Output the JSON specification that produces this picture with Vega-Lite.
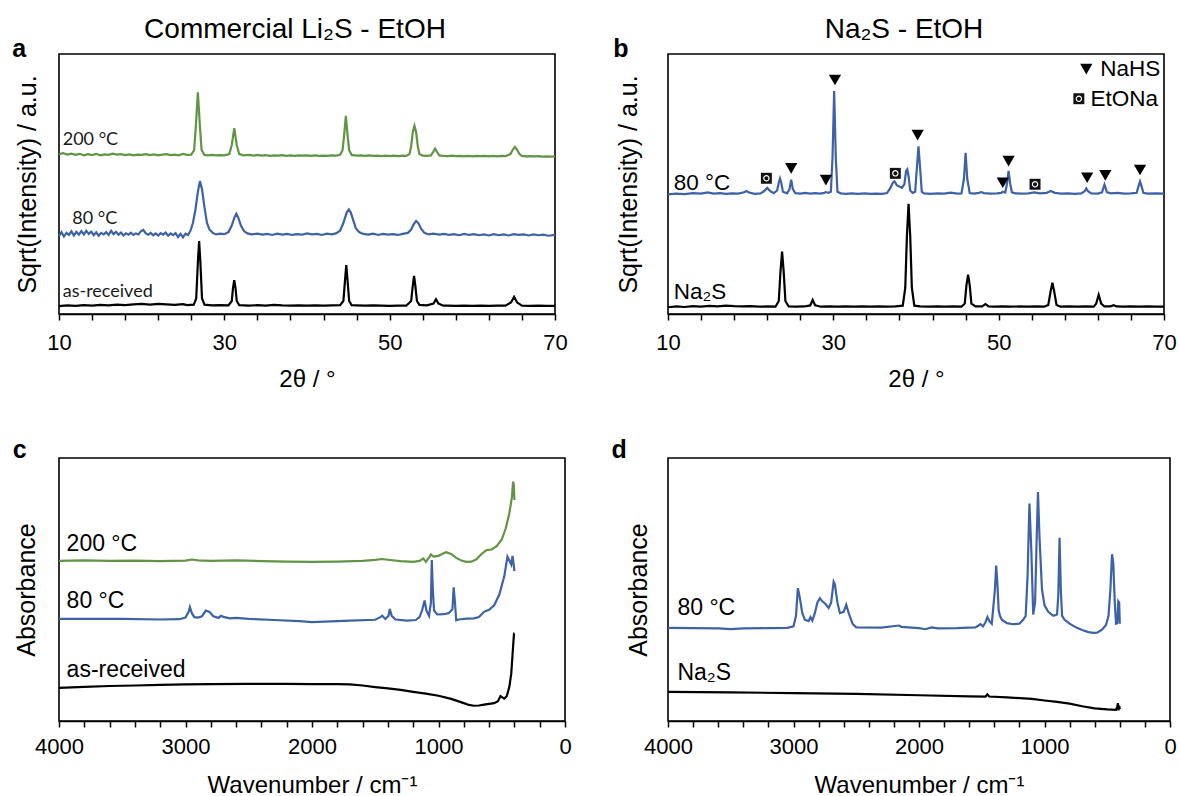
{
"$schema": "https://vega.github.io/schema/vega-lite/v6.json",
"background": "white",
"padding": {"left": 11, "top": 14, "right": 0, "bottom": 0},
"config": {
  "view": {"stroke": "black", "strokeWidth": 1.6},
  "font": "Liberation Sans",
  "axis": {"grid": false, "domainColor": "black", "domainWidth": 1.6, "tickColor": "black", "tickWidth": 1.5, "tickSize": 6, "labelColor": "black", "labelFont": "Liberation Sans", "labelFontSize": 22, "titleColor": "black", "titleFont": "Liberation Sans", "titleFontWeight": "normal", "titleFontSize": 24, "labelOverlap": false, "labelFlush": false},
  "title": {"font": "Liberation Sans", "fontSize": 28, "fontWeight": "normal", "color": "black"}
},
"datasets": {
"letters": [
{"p":"a","x":5.2,"y":99,"t":"a"},
{"p":"b","x":4.3,"y":99,"t":"b"},
{"p":"c","x":4310,"y":100,"t":"c"},
{"p":"d","x":4390,"y":100,"t":"d"}
],
"a_labels": [
{"x":10.45,"y":67.0,"t":"200 °C"},
{"x":11.6,"y":36.4,"t":"80 °C"},
{"x":10.45,"y":8.6,"t":"as-received"}
],
"b_labels": [
{"x":10.7,"y":50.4,"t":"80 °C"},
{"x":10.7,"y":8.6,"t":"Na₂S"},
{"x":62.3,"y":94.2,"t":"NaHS"},
{"x":61.1,"y":82.8,"t":"EtONa"}
],
"c_labels": [
{"x":3940,"y":67.2,"t":"200 °C"},
{"x":3940,"y":45.5,"t":"80 °C"},
{"x":3940,"y":19.3,"t":"as-received"}
],
"d_labels": [
{"x":3925,"y":42.9,"t":"80 °C"},
{"x":3925,"y":18.3,"t":"Na₂S"}
],
"b_marks": [
{"m":"e","x":21.9,"y":52.2},{"m":"n","x":24.9,"y":56.0},{"m":"n","x":29.1,"y":51.5},{"m":"n","x":30.2,"y":90},{"m":"e","x":37.5,"y":54.1},{"m":"n","x":40.2,"y":68.8},{"m":"n","x":50.5,"y":50.5},{"m":"n","x":51.2,"y":58.8},{"m":"e","x":54.4,"y":49.9},{"m":"n","x":60.7,"y":52.4},{"m":"n","x":62.9,"y":53.3},{"m":"n","x":67.1,"y":55.4},{"m":"n","x":60.6,"y":94.2},{"m":"e","x":59.7,"y":82.8}
],
"a_lines": [
{"s":"k","x":10,"y":3.0},{"s":"k","x":11,"y":3.3},{"s":"k","x":12,"y":3.1},{"s":"k","x":13,"y":3.4},{"s":"k","x":14,"y":3.2},{"s":"k","x":15,"y":3.5},{"s":"k","x":16,"y":3.3},{"s":"k","x":17,"y":3.6},{"s":"k","x":18,"y":3.4},{"s":"k","x":19,"y":3.7},{"s":"k","x":20,"y":3.9},{"s":"k","x":21,"y":3.6},{"s":"k","x":22,"y":3.9},{"s":"k","x":23,"y":3.7},{"s":"k","x":24,"y":3.5},{"s":"k","x":25,"y":3.8},{"s":"k","x":25.5,"y":3.4},{"s":"k","x":26.3,"y":3.6},{"s":"k","x":26.6,"y":6},{"s":"k","x":26.8,"y":20},{"s":"k","x":26.95,"y":28.1},{"s":"k","x":27.1,"y":20},{"s":"k","x":27.3,"y":6},{"s":"k","x":27.6,"y":3.6},{"s":"k","x":28.5,"y":3.3},{"s":"k","x":29.5,"y":3.4},{"s":"k","x":30.5,"y":3.3},{"s":"k","x":30.9,"y":5},{"s":"k","x":31.05,"y":10},{"s":"k","x":31.2,"y":13},{"s":"k","x":31.35,"y":10},{"s":"k","x":31.5,"y":5},{"s":"k","x":31.8,"y":3.4},{"s":"k","x":33,"y":3.2},{"s":"k","x":34,"y":3.4},{"s":"k","x":35,"y":3.2},{"s":"k","x":36,"y":3.5},{"s":"k","x":37,"y":3.3},{"s":"k","x":38,"y":3.2},{"s":"k","x":39,"y":3.3},{"s":"k","x":40,"y":3.2},{"s":"k","x":41,"y":3.3},{"s":"k","x":42,"y":3.2},{"s":"k","x":43,"y":3.3},{"s":"k","x":44,"y":3.4},{"s":"k","x":44.4,"y":5},{"s":"k","x":44.6,"y":13},{"s":"k","x":44.75,"y":18.8},{"s":"k","x":44.9,"y":13},{"s":"k","x":45.1,"y":5},{"s":"k","x":45.4,"y":3.4},{"s":"k","x":46,"y":3.3},{"s":"k","x":47,"y":3.2},{"s":"k","x":48,"y":3.3},{"s":"k","x":49,"y":3.2},{"s":"k","x":50,"y":3.1},{"s":"k","x":51,"y":3.2},{"s":"k","x":52,"y":3.2},{"s":"k","x":52.6,"y":5},{"s":"k","x":52.8,"y":11},{"s":"k","x":52.95,"y":14.7},{"s":"k","x":53.1,"y":11},{"s":"k","x":53.3,"y":5},{"s":"k","x":53.6,"y":3.5},{"s":"k","x":54.5,"y":3.3},{"s":"k","x":55.3,"y":4},{"s":"k","x":55.6,"y":5.7},{"s":"k","x":55.9,"y":4},{"s":"k","x":56.5,"y":3.2},{"s":"k","x":57,"y":3.2},{"s":"k","x":58,"y":3.1},{"s":"k","x":59,"y":3.2},{"s":"k","x":60,"y":3.1},{"s":"k","x":61,"y":3.2},{"s":"k","x":62,"y":3.1},{"s":"k","x":63,"y":3.2},{"s":"k","x":64,"y":3.2},{"s":"k","x":64.7,"y":4.5},{"s":"k","x":65.05,"y":6.6},{"s":"k","x":65.4,"y":4.5},{"s":"k","x":66,"y":3.2},{"s":"k","x":67,"y":3.1},{"s":"k","x":68,"y":3.2},{"s":"k","x":69,"y":3.1},{"s":"k","x":70,"y":3.1},
{"s":"b","x":10,"y":30.0},{"s":"b","x":10.3,"y":31.5},{"s":"b","x":10.6,"y":29.8},{"s":"b","x":10.9,"y":31.2},{"s":"b","x":11.2,"y":30.4},{"s":"b","x":11.5,"y":31.8},{"s":"b","x":11.8,"y":30.2},{"s":"b","x":12.1,"y":31.6},{"s":"b","x":12.4,"y":30.5},{"s":"b","x":12.7,"y":31.9},{"s":"b","x":13,"y":30.6},{"s":"b","x":13.3,"y":32.0},{"s":"b","x":13.6,"y":30.8},{"s":"b","x":13.9,"y":31.7},{"s":"b","x":14.2,"y":30.3},{"s":"b","x":14.5,"y":31.4},{"s":"b","x":14.8,"y":30.1},{"s":"b","x":15.1,"y":31.2},{"s":"b","x":15.4,"y":30.6},{"s":"b","x":15.7,"y":31.5},{"s":"b","x":16,"y":30.4},{"s":"b","x":16.3,"y":32.0},{"s":"b","x":16.6,"y":30.7},{"s":"b","x":16.9,"y":31.6},{"s":"b","x":17.2,"y":30.5},{"s":"b","x":17.5,"y":31.3},{"s":"b","x":17.8,"y":30.2},{"s":"b","x":18.1,"y":31.0},{"s":"b","x":18.4,"y":30.5},{"s":"b","x":18.7,"y":31.3},{"s":"b","x":19,"y":30.4},{"s":"b","x":19.3,"y":31.0},{"s":"b","x":19.6,"y":30.6},{"s":"b","x":19.9,"y":31.8},{"s":"b","x":20.2,"y":32.3},{"s":"b","x":20.5,"y":31.0},{"s":"b","x":20.8,"y":30.5},{"s":"b","x":21.1,"y":31.2},{"s":"b","x":21.4,"y":30.3},{"s":"b","x":21.7,"y":31.0},{"s":"b","x":22,"y":30.2},{"s":"b","x":22.3,"y":31.1},{"s":"b","x":22.6,"y":30.5},{"s":"b","x":22.9,"y":31.3},{"s":"b","x":23.2,"y":30.1},{"s":"b","x":23.5,"y":31.0},{"s":"b","x":23.8,"y":30.3},{"s":"b","x":24.1,"y":31.1},{"s":"b","x":24.4,"y":29.6},{"s":"b","x":24.7,"y":30.8},{"s":"b","x":25,"y":29.5},{"s":"b","x":25.3,"y":30.9},{"s":"b","x":25.6,"y":30.4},{"s":"b","x":25.9,"y":32},{"s":"b","x":26.2,"y":35},{"s":"b","x":26.5,"y":40},{"s":"b","x":26.8,"y":47},{"s":"b","x":27.05,"y":51.1},{"s":"b","x":27.3,"y":48},{"s":"b","x":27.6,"y":41},{"s":"b","x":27.9,"y":35},{"s":"b","x":28.2,"y":32.5},{"s":"b","x":28.6,"y":31.2},{"s":"b","x":29,"y":30.6},{"s":"b","x":29.5,"y":30.9},{"s":"b","x":30,"y":30.7},{"s":"b","x":30.5,"y":31.5},{"s":"b","x":30.9,"y":34},{"s":"b","x":31.2,"y":37},{"s":"b","x":31.45,"y":38.6},{"s":"b","x":31.7,"y":37},{"s":"b","x":32.0,"y":34},{"s":"b","x":32.4,"y":31.8},{"s":"b","x":32.8,"y":31.0},{"s":"b","x":33.3,"y":30.6},{"s":"b","x":34,"y":30.9},{"s":"b","x":34.6,"y":30.5},{"s":"b","x":35.2,"y":30.8},{"s":"b","x":35.8,"y":30.4},{"s":"b","x":36.4,"y":30.9},{"s":"b","x":37,"y":30.5},{"s":"b","x":37.6,"y":30.8},{"s":"b","x":38.2,"y":30.4},{"s":"b","x":38.8,"y":30.7},{"s":"b","x":39.4,"y":30.5},{"s":"b","x":40,"y":31.0},{"s":"b","x":40.6,"y":30.6},{"s":"b","x":41.2,"y":30.8},{"s":"b","x":41.8,"y":30.4},{"s":"b","x":42.4,"y":30.9},{"s":"b","x":43,"y":30.6},{"s":"b","x":43.5,"y":31.0},{"s":"b","x":44,"y":32},{"s":"b","x":44.4,"y":35},{"s":"b","x":44.8,"y":39},{"s":"b","x":45.05,"y":40.2},{"s":"b","x":45.3,"y":39},{"s":"b","x":45.6,"y":36},{"s":"b","x":45.9,"y":33},{"s":"b","x":46.3,"y":31.5},{"s":"b","x":46.8,"y":30.8},{"s":"b","x":47.4,"y":30.5},{"s":"b","x":48,"y":30.9},{"s":"b","x":48.6,"y":30.4},{"s":"b","x":49.2,"y":30.8},{"s":"b","x":49.8,"y":30.5},{"s":"b","x":50.4,"y":30.7},{"s":"b","x":51,"y":30.4},{"s":"b","x":51.6,"y":30.8},{"s":"b","x":52.2,"y":31.2},{"s":"b","x":52.6,"y":32.5},{"s":"b","x":52.9,"y":34.5},{"s":"b","x":53.2,"y":35.8},{"s":"b","x":53.5,"y":34.8},{"s":"b","x":53.8,"y":32.8},{"s":"b","x":54.2,"y":31.2},{"s":"b","x":54.7,"y":30.6},{"s":"b","x":55.3,"y":30.9},{"s":"b","x":56,"y":30.5},{"s":"b","x":56.6,"y":30.8},{"s":"b","x":57.2,"y":30.4},{"s":"b","x":57.8,"y":30.7},{"s":"b","x":58.4,"y":30.3},{"s":"b","x":59,"y":30.8},{"s":"b","x":59.6,"y":30.4},{"s":"b","x":60.2,"y":30.7},{"s":"b","x":60.8,"y":30.3},{"s":"b","x":61.4,"y":30.6},{"s":"b","x":62,"y":30.2},{"s":"b","x":62.6,"y":30.7},{"s":"b","x":63.2,"y":30.3},{"s":"b","x":63.8,"y":30.6},{"s":"b","x":64.4,"y":30.2},{"s":"b","x":65,"y":30.7},{"s":"b","x":65.6,"y":30.4},{"s":"b","x":66.2,"y":30.6},{"s":"b","x":66.8,"y":30.2},{"s":"b","x":67.4,"y":30.6},{"s":"b","x":68,"y":30.3},{"s":"b","x":68.6,"y":30.5},{"s":"b","x":69.2,"y":30.1},{"s":"b","x":70,"y":30.4},
{"s":"g","x":10,"y":61.5},{"s":"g","x":10.5,"y":61.9},{"s":"g","x":11,"y":61.3},{"s":"g","x":11.5,"y":61.7},{"s":"g","x":12,"y":61.2},{"s":"g","x":12.5,"y":61.6},{"s":"g","x":13,"y":61.0},{"s":"g","x":13.5,"y":61.5},{"s":"g","x":14,"y":61.1},{"s":"g","x":14.5,"y":61.6},{"s":"g","x":15,"y":61.0},{"s":"g","x":15.5,"y":61.4},{"s":"g","x":16,"y":61.2},{"s":"g","x":16.5,"y":61.7},{"s":"g","x":17,"y":61.3},{"s":"g","x":17.5,"y":61.5},{"s":"g","x":18,"y":61.1},{"s":"g","x":18.5,"y":61.4},{"s":"g","x":19,"y":61.0},{"s":"g","x":19.5,"y":61.3},{"s":"g","x":20,"y":61.2},{"s":"g","x":20.5,"y":61.5},{"s":"g","x":21,"y":61.1},{"s":"g","x":21.5,"y":61.4},{"s":"g","x":22,"y":61.0},{"s":"g","x":22.5,"y":61.3},{"s":"g","x":23,"y":61.5},{"s":"g","x":23.5,"y":61.1},{"s":"g","x":24,"y":61.3},{"s":"g","x":24.5,"y":61.0},{"s":"g","x":25,"y":61.6},{"s":"g","x":25.5,"y":61.2},{"s":"g","x":26,"y":61.3},{"s":"g","x":26.35,"y":63},{"s":"g","x":26.55,"y":72},{"s":"g","x":26.8,"y":85.3},{"s":"g","x":27.05,"y":72},{"s":"g","x":27.25,"y":63},{"s":"g","x":27.6,"y":61.2},{"s":"g","x":28,"y":61.0},{"s":"g","x":28.5,"y":61.2},{"s":"g","x":29,"y":61.0},{"s":"g","x":29.5,"y":61.1},{"s":"g","x":30,"y":61.0},{"s":"g","x":30.6,"y":61.5},{"s":"g","x":30.9,"y":65},{"s":"g","x":31.2,"y":71.5},{"s":"g","x":31.5,"y":65},{"s":"g","x":31.8,"y":61.5},{"s":"g","x":32.3,"y":61.0},{"s":"g","x":33,"y":61.2},{"s":"g","x":33.5,"y":60.9},{"s":"g","x":34,"y":61.2},{"s":"g","x":34.5,"y":60.9},{"s":"g","x":35,"y":61.1},{"s":"g","x":35.5,"y":60.8},{"s":"g","x":36,"y":61.0},{"s":"g","x":36.5,"y":60.9},{"s":"g","x":37,"y":61.1},{"s":"g","x":37.5,"y":60.8},{"s":"g","x":38,"y":61.0},{"s":"g","x":38.5,"y":60.8},{"s":"g","x":39,"y":61.0},{"s":"g","x":39.5,"y":60.9},{"s":"g","x":40,"y":61.0},{"s":"g","x":40.5,"y":60.8},{"s":"g","x":41,"y":61.0},{"s":"g","x":41.5,"y":60.8},{"s":"g","x":42,"y":60.9},{"s":"g","x":42.5,"y":60.8},{"s":"g","x":43,"y":61.0},{"s":"g","x":43.5,"y":60.9},{"s":"g","x":44,"y":61.2},{"s":"g","x":44.3,"y":63},{"s":"g","x":44.5,"y":69},{"s":"g","x":44.7,"y":76.2},{"s":"g","x":44.9,"y":69},{"s":"g","x":45.1,"y":63},{"s":"g","x":45.4,"y":61.2},{"s":"g","x":46,"y":60.9},{"s":"g","x":46.5,"y":61.0},{"s":"g","x":47,"y":60.8},{"s":"g","x":47.5,"y":61.0},{"s":"g","x":48,"y":60.8},{"s":"g","x":48.5,"y":60.9},{"s":"g","x":49,"y":60.7},{"s":"g","x":49.5,"y":60.9},{"s":"g","x":50,"y":60.7},{"s":"g","x":50.5,"y":60.9},{"s":"g","x":51,"y":60.7},{"s":"g","x":51.5,"y":60.9},{"s":"g","x":52,"y":60.8},{"s":"g","x":52.4,"y":61.5},{"s":"g","x":52.6,"y":64.5},{"s":"g","x":52.8,"y":70},{"s":"g","x":53.0,"y":72.4},{"s":"g","x":53.2,"y":70},{"s":"g","x":53.4,"y":64.5},{"s":"g","x":53.6,"y":61.5},{"s":"g","x":54,"y":60.9},{"s":"g","x":54.5,"y":60.8},{"s":"g","x":55,"y":61.0},{"s":"g","x":55.3,"y":62.5},{"s":"g","x":55.5,"y":63.6},{"s":"g","x":55.7,"y":62.5},{"s":"g","x":56,"y":61.0},{"s":"g","x":56.5,"y":60.8},{"s":"g","x":57,"y":60.7},{"s":"g","x":57.5,"y":60.9},{"s":"g","x":58,"y":60.7},{"s":"g","x":58.5,"y":60.8},{"s":"g","x":59,"y":60.6},{"s":"g","x":59.5,"y":60.8},{"s":"g","x":60,"y":60.6},{"s":"g","x":60.5,"y":60.8},{"s":"g","x":61,"y":60.7},{"s":"g","x":61.5,"y":60.8},{"s":"g","x":62,"y":60.6},{"s":"g","x":62.5,"y":60.8},{"s":"g","x":63,"y":60.6},{"s":"g","x":63.5,"y":60.8},{"s":"g","x":64,"y":60.7},{"s":"g","x":64.6,"y":61.5},{"s":"g","x":64.9,"y":63.2},{"s":"g","x":65.15,"y":64.2},{"s":"g","x":65.4,"y":63.2},{"s":"g","x":65.7,"y":61.5},{"s":"g","x":66,"y":60.8},{"s":"g","x":66.5,"y":60.6},{"s":"g","x":67,"y":60.7},{"s":"g","x":67.5,"y":60.6},{"s":"g","x":68,"y":60.7},{"s":"g","x":68.5,"y":60.5},{"s":"g","x":69,"y":60.6},{"s":"g","x":69.5,"y":60.5},{"s":"g","x":70,"y":60.6}
],
"b_lines": [
{"s":"b","x":10,"y":46.0},{"s":"b","x":11,"y":46.3},{"s":"b","x":12,"y":46.1},{"s":"b","x":13,"y":46.5},{"s":"b","x":14,"y":46.3},{"s":"b","x":14.8,"y":46.8},{"s":"b","x":15.5,"y":46.3},{"s":"b","x":16.3,"y":46.5},{"s":"b","x":17,"y":46.2},{"s":"b","x":17.8,"y":46.4},{"s":"b","x":18.5,"y":46.3},{"s":"b","x":19.2,"y":46.8},{"s":"b","x":19.5,"y":47.3},{"s":"b","x":19.8,"y":46.7},{"s":"b","x":20.5,"y":46.2},{"s":"b","x":21.2,"y":46.4},{"s":"b","x":21.6,"y":47.2},{"s":"b","x":22.0,"y":48.5},{"s":"b","x":22.4,"y":47.2},{"s":"b","x":22.8,"y":46.5},{"s":"b","x":23.2,"y":47.5},{"s":"b","x":23.4,"y":50.5},{"s":"b","x":23.55,"y":52.1},{"s":"b","x":23.7,"y":50.5},{"s":"b","x":23.9,"y":47},{"s":"b","x":24.4,"y":46.4},{"s":"b","x":24.7,"y":48},{"s":"b","x":24.9,"y":51.7},{"s":"b","x":25.1,"y":48},{"s":"b","x":25.4,"y":46.5},{"s":"b","x":26,"y":46.3},{"s":"b","x":26.6,"y":46.6},{"s":"b","x":27.2,"y":46.3},{"s":"b","x":27.8,"y":46.5},{"s":"b","x":28.4,"y":46.3},{"s":"b","x":28.9,"y":46.6},{"s":"b","x":29.1,"y":46.9},{"s":"b","x":29.4,"y":46.6},{"s":"b","x":29.7,"y":47},{"s":"b","x":29.9,"y":60},{"s":"b","x":30.1,"y":85.8},{"s":"b","x":30.3,"y":60},{"s":"b","x":30.5,"y":47},{"s":"b","x":30.9,"y":46.4},{"s":"b","x":31.5,"y":46.2},{"s":"b","x":32.2,"y":46.4},{"s":"b","x":33,"y":46.2},{"s":"b","x":33.8,"y":46.4},{"s":"b","x":34.5,"y":46.2},{"s":"b","x":35.2,"y":46.3},{"s":"b","x":35.9,"y":46.2},{"s":"b","x":36.5,"y":46.5},{"s":"b","x":36.9,"y":48.5},{"s":"b","x":37.2,"y":50.5},{"s":"b","x":37.4,"y":51},{"s":"b","x":37.7,"y":49.5},{"s":"b","x":38.0,"y":49},{"s":"b","x":38.3,"y":48.5},{"s":"b","x":38.6,"y":50},{"s":"b","x":38.8,"y":55},{"s":"b","x":38.95,"y":55.6},{"s":"b","x":39.1,"y":53},{"s":"b","x":39.3,"y":47.5},{"s":"b","x":39.6,"y":46.6},{"s":"b","x":39.9,"y":47},{"s":"b","x":40.1,"y":56},{"s":"b","x":40.3,"y":64.5},{"s":"b","x":40.5,"y":56},{"s":"b","x":40.7,"y":47},{"s":"b","x":41.0,"y":46.4},{"s":"b","x":41.8,"y":46.2},{"s":"b","x":42.6,"y":46.4},{"s":"b","x":43.4,"y":46.3},{"s":"b","x":44.2,"y":46.7},{"s":"b","x":45.0,"y":46.3},{"s":"b","x":45.5,"y":46.4},{"s":"b","x":45.8,"y":52},{"s":"b","x":46.0,"y":62},{"s":"b","x":46.2,"y":52},{"s":"b","x":46.5,"y":46.5},{"s":"b","x":47.0,"y":46.3},{"s":"b","x":47.6,"y":46.6},{"s":"b","x":47.9,"y":46.9},{"s":"b","x":48.2,"y":46.5},{"s":"b","x":49,"y":46.3},{"s":"b","x":49.8,"y":46.4},{"s":"b","x":50.3,"y":46.6},{"s":"b","x":50.5,"y":47.0},{"s":"b","x":50.8,"y":46.7},{"s":"b","x":51.0,"y":50},{"s":"b","x":51.2,"y":55},{"s":"b","x":51.4,"y":50},{"s":"b","x":51.6,"y":46.8},{"s":"b","x":52,"y":46.4},{"s":"b","x":52.8,"y":46.3},{"s":"b","x":53.6,"y":46.4},{"s":"b","x":54.3,"y":46.8},{"s":"b","x":55,"y":46.4},{"s":"b","x":55.8,"y":46.6},{"s":"b","x":56.3,"y":47.3},{"s":"b","x":56.8,"y":46.6},{"s":"b","x":57.6,"y":46.3},{"s":"b","x":58.4,"y":46.4},{"s":"b","x":59.2,"y":46.2},{"s":"b","x":60,"y":46.4},{"s":"b","x":60.4,"y":47.2},{"s":"b","x":60.6,"y":48.3},{"s":"b","x":60.8,"y":47.2},{"s":"b","x":61.2,"y":46.4},{"s":"b","x":62,"y":46.3},{"s":"b","x":62.5,"y":46.8},{"s":"b","x":62.8,"y":49.8},{"s":"b","x":63.1,"y":46.8},{"s":"b","x":63.6,"y":46.4},{"s":"b","x":64.4,"y":46.6},{"s":"b","x":65.2,"y":46.3},{"s":"b","x":66,"y":46.4},{"s":"b","x":66.7,"y":46.6},{"s":"b","x":66.9,"y":49},{"s":"b","x":67.1,"y":51},{"s":"b","x":67.3,"y":49},{"s":"b","x":67.5,"y":46.6},{"s":"b","x":68,"y":46.3},{"s":"b","x":69,"y":46.4},{"s":"b","x":70,"y":46.3},
{"s":"k","x":10,"y":2.6},{"s":"k","x":11,"y":2.9},{"s":"k","x":12,"y":2.7},{"s":"k","x":13,"y":3.0},{"s":"k","x":14,"y":2.8},{"s":"k","x":15,"y":3.1},{"s":"k","x":16,"y":2.9},{"s":"k","x":17,"y":3.2},{"s":"k","x":18,"y":3.0},{"s":"k","x":19,"y":2.9},{"s":"k","x":20,"y":3.0},{"s":"k","x":21,"y":2.8},{"s":"k","x":22,"y":2.9},{"s":"k","x":23,"y":2.8},{"s":"k","x":23.4,"y":5},{"s":"k","x":23.6,"y":16},{"s":"k","x":23.8,"y":24},{"s":"k","x":24.0,"y":16},{"s":"k","x":24.2,"y":5},{"s":"k","x":24.6,"y":2.9},{"s":"k","x":25.5,"y":2.8},{"s":"k","x":26.5,"y":2.9},{"s":"k","x":27.2,"y":3.3},{"s":"k","x":27.5,"y":5.4},{"s":"k","x":27.8,"y":3.3},{"s":"k","x":28.5,"y":2.8},{"s":"k","x":29.5,"y":2.9},{"s":"k","x":30.5,"y":2.8},{"s":"k","x":31.5,"y":2.9},{"s":"k","x":32.5,"y":2.8},{"s":"k","x":33.5,"y":2.9},{"s":"k","x":34.5,"y":2.8},{"s":"k","x":35.5,"y":2.9},{"s":"k","x":36.5,"y":2.8},{"s":"k","x":37.5,"y":2.9},{"s":"k","x":38.4,"y":3.2},{"s":"k","x":38.7,"y":10},{"s":"k","x":38.9,"y":30},{"s":"k","x":39.1,"y":42.4},{"s":"k","x":39.3,"y":30},{"s":"k","x":39.5,"y":10},{"s":"k","x":39.8,"y":3.2},{"s":"k","x":40.5,"y":2.9},{"s":"k","x":41.5,"y":2.8},{"s":"k","x":42.5,"y":2.9},{"s":"k","x":43.5,"y":2.8},{"s":"k","x":44.5,"y":2.9},{"s":"k","x":45.5,"y":2.8},{"s":"k","x":45.9,"y":4},{"s":"k","x":46.1,"y":11},{"s":"k","x":46.3,"y":15.1},{"s":"k","x":46.5,"y":11},{"s":"k","x":46.7,"y":4},{"s":"k","x":47.2,"y":2.9},{"s":"k","x":48,"y":2.9},{"s":"k","x":48.4,"y":3.8},{"s":"k","x":48.8,"y":2.9},{"s":"k","x":49.5,"y":2.8},{"s":"k","x":50.5,"y":2.9},{"s":"k","x":51.5,"y":2.8},{"s":"k","x":52.5,"y":2.9},{"s":"k","x":53.5,"y":2.8},{"s":"k","x":54.5,"y":2.9},{"s":"k","x":55.5,"y":2.8},{"s":"k","x":56,"y":3.5},{"s":"k","x":56.3,"y":9},{"s":"k","x":56.5,"y":12},{"s":"k","x":56.7,"y":9},{"s":"k","x":57,"y":3.5},{"s":"k","x":57.5,"y":2.8},{"s":"k","x":58.5,"y":2.9},{"s":"k","x":59.5,"y":2.8},{"s":"k","x":60.5,"y":2.9},{"s":"k","x":61.5,"y":2.8},{"s":"k","x":61.8,"y":4},{"s":"k","x":62.1,"y":7.4},{"s":"k","x":62.4,"y":4},{"s":"k","x":62.8,"y":2.9},{"s":"k","x":63.5,"y":2.9},{"s":"k","x":63.9,"y":3.4},{"s":"k","x":64.3,"y":2.9},{"s":"k","x":65,"y":2.8},{"s":"k","x":66,"y":2.9},{"s":"k","x":67,"y":2.8},{"s":"k","x":68,"y":2.9},{"s":"k","x":69,"y":2.8},{"s":"k","x":70,"y":2.8}
],
"c_lines": [
{"s":"g","x":4000,"y":60.9},{"s":"g","x":3800,"y":61.1},{"s":"g","x":3600,"y":60.9},{"s":"g","x":3400,"y":61.0},{"s":"g","x":3200,"y":60.8},{"s":"g","x":3000,"y":61.0},{"s":"g","x":2950,"y":61.4},{"s":"g","x":2900,"y":61.1},{"s":"g","x":2800,"y":60.9},{"s":"g","x":2700,"y":61.0},{"s":"g","x":2600,"y":61.1},{"s":"g","x":2400,"y":60.8},{"s":"g","x":2200,"y":60.6},{"s":"g","x":2000,"y":60.5},{"s":"g","x":1800,"y":60.6},{"s":"g","x":1600,"y":60.9},{"s":"g","x":1500,"y":61.3},{"s":"g","x":1450,"y":61.6},{"s":"g","x":1400,"y":61.3},{"s":"g","x":1300,"y":60.8},{"s":"g","x":1200,"y":60.5},{"s":"g","x":1150,"y":60.9},{"s":"g","x":1120,"y":61.8},{"s":"g","x":1100,"y":60.5},{"s":"g","x":1070,"y":62.5},{"s":"g","x":1060,"y":63.3},{"s":"g","x":1040,"y":62.5},{"s":"g","x":1000,"y":62.8},{"s":"g","x":960,"y":63.8},{"s":"g","x":940,"y":64.2},{"s":"g","x":900,"y":63.5},{"s":"g","x":860,"y":62},{"s":"g","x":820,"y":61},{"s":"g","x":780,"y":60.5},{"s":"g","x":740,"y":60.6},{"s":"g","x":700,"y":61.5},{"s":"g","x":660,"y":63.5},{"s":"g","x":620,"y":65.0},{"s":"g","x":580,"y":65.2},{"s":"g","x":540,"y":66.5},{"s":"g","x":500,"y":69},{"s":"g","x":470,"y":73},{"s":"g","x":440,"y":79},{"s":"g","x":420,"y":85},{"s":"g","x":410,"y":91},{"s":"g","x":405,"y":90},{"s":"g","x":400,"y":84},
{"s":"b","x":4000,"y":38.8},{"s":"b","x":3500,"y":38.8},{"s":"b","x":3200,"y":38.6},{"s":"b","x":3050,"y":38.7},{"s":"b","x":3000,"y":39.3},{"s":"b","x":2975,"y":41.5},{"s":"b","x":2965,"y":43.3},{"s":"b","x":2950,"y":41},{"s":"b","x":2930,"y":39.5},{"s":"b","x":2900,"y":39.3},{"s":"b","x":2870,"y":39.8},{"s":"b","x":2840,"y":42.0},{"s":"b","x":2810,"y":41.5},{"s":"b","x":2780,"y":39.8},{"s":"b","x":2740,"y":39.2},{"s":"b","x":2720,"y":40.0},{"s":"b","x":2700,"y":39.6},{"s":"b","x":2650,"y":39.0},{"s":"b","x":2600,"y":39.2},{"s":"b","x":2500,"y":38.8},{"s":"b","x":2300,"y":38.4},{"s":"b","x":2100,"y":38.0},{"s":"b","x":2000,"y":37.6},{"s":"b","x":1900,"y":37.8},{"s":"b","x":1700,"y":38.2},{"s":"b","x":1500,"y":38.5},{"s":"b","x":1460,"y":39.5},{"s":"b","x":1445,"y":40.0},{"s":"b","x":1420,"y":38.8},{"s":"b","x":1395,"y":40},{"s":"b","x":1385,"y":42.6},{"s":"b","x":1370,"y":40},{"s":"b","x":1340,"y":38.6},{"s":"b","x":1250,"y":38.2},{"s":"b","x":1180,"y":38.4},{"s":"b","x":1150,"y":39.5},{"s":"b","x":1130,"y":42},{"s":"b","x":1110,"y":45.8},{"s":"b","x":1095,"y":42},{"s":"b","x":1075,"y":40},{"s":"b","x":1060,"y":45},{"s":"b","x":1053,"y":61.2},{"s":"b","x":1045,"y":50},{"s":"b","x":1035,"y":42},{"s":"b","x":1010,"y":40.5},{"s":"b","x":960,"y":40.6},{"s":"b","x":920,"y":41},{"s":"b","x":890,"y":42.5},{"s":"b","x":880,"y":50.8},{"s":"b","x":870,"y":45},{"s":"b","x":860,"y":38.3},{"s":"b","x":840,"y":38.6},{"s":"b","x":780,"y":38.9},{"s":"b","x":720,"y":39.0},{"s":"b","x":680,"y":39.5},{"s":"b","x":640,"y":41.5},{"s":"b","x":600,"y":42.3},{"s":"b","x":560,"y":44},{"s":"b","x":520,"y":48},{"s":"b","x":480,"y":55},{"s":"b","x":455,"y":62.5},{"s":"b","x":440,"y":61},{"s":"b","x":425,"y":59.5},{"s":"b","x":415,"y":62.8},{"s":"b","x":410,"y":61},{"s":"b","x":403,"y":58.5},{"s":"b","x":400,"y":57},
{"s":"k","x":4000,"y":12.6},{"s":"k","x":3800,"y":13.0},{"s":"k","x":3600,"y":13.3},{"s":"k","x":3400,"y":13.5},{"s":"k","x":3200,"y":13.7},{"s":"k","x":3000,"y":13.9},{"s":"k","x":2800,"y":14.0},{"s":"k","x":2500,"y":14.1},{"s":"k","x":2200,"y":14.1},{"s":"k","x":2000,"y":14.0},{"s":"k","x":1800,"y":14.0},{"s":"k","x":1700,"y":13.9},{"s":"k","x":1600,"y":13.5},{"s":"k","x":1500,"y":12.9},{"s":"k","x":1400,"y":12.4},{"s":"k","x":1300,"y":11.8},{"s":"k","x":1200,"y":11.1},{"s":"k","x":1100,"y":10.4},{"s":"k","x":1000,"y":9.6},{"s":"k","x":900,"y":8.4},{"s":"k","x":800,"y":6.8},{"s":"k","x":760,"y":6.1},{"s":"k","x":720,"y":5.8},{"s":"k","x":680,"y":5.9},{"s":"k","x":640,"y":6.2},{"s":"k","x":600,"y":6.5},{"s":"k","x":560,"y":6.8},{"s":"k","x":530,"y":7.5},{"s":"k","x":510,"y":9.5},{"s":"k","x":495,"y":9.0},{"s":"k","x":480,"y":8.5},{"s":"k","x":460,"y":9.5},{"s":"k","x":440,"y":13},{"s":"k","x":425,"y":18},{"s":"k","x":415,"y":25},{"s":"k","x":408,"y":30},{"s":"k","x":403,"y":33.2},{"s":"k","x":400,"y":33.2}
],
"d_lines": [
{"s":"b","x":4000,"y":35.4},{"s":"b","x":3800,"y":35.3},{"s":"b","x":3600,"y":35.2},{"s":"b","x":3500,"y":34.9},{"s":"b","x":3400,"y":35.2},{"s":"b","x":3200,"y":35.3},{"s":"b","x":3050,"y":35.4},{"s":"b","x":3000,"y":36},{"s":"b","x":2980,"y":40},{"s":"b","x":2965,"y":50.5},{"s":"b","x":2950,"y":47},{"s":"b","x":2930,"y":41},{"s":"b","x":2910,"y":38.5},{"s":"b","x":2880,"y":38},{"s":"b","x":2865,"y":39.5},{"s":"b","x":2850,"y":38.2},{"s":"b","x":2830,"y":41},{"s":"b","x":2810,"y":45},{"s":"b","x":2790,"y":46.7},{"s":"b","x":2770,"y":45.5},{"s":"b","x":2745,"y":44.5},{"s":"b","x":2720,"y":43},{"s":"b","x":2700,"y":45},{"s":"b","x":2680,"y":53},{"s":"b","x":2670,"y":52},{"s":"b","x":2650,"y":45},{"s":"b","x":2630,"y":41},{"s":"b","x":2600,"y":41.5},{"s":"b","x":2580,"y":44.2},{"s":"b","x":2560,"y":41},{"s":"b","x":2530,"y":37},{"s":"b","x":2500,"y":35.6},{"s":"b","x":2300,"y":35.5},{"s":"b","x":2160,"y":36.3},{"s":"b","x":2140,"y":35.8},{"s":"b","x":2000,"y":35.3},{"s":"b","x":1950,"y":34.9},{"s":"b","x":1900,"y":35.6},{"s":"b","x":1850,"y":35.2},{"s":"b","x":1700,"y":35.3},{"s":"b","x":1550,"y":35.6},{"s":"b","x":1510,"y":36.8},{"s":"b","x":1490,"y":36},{"s":"b","x":1470,"y":37.5},{"s":"b","x":1455,"y":39.5},{"s":"b","x":1440,"y":38},{"s":"b","x":1420,"y":37},{"s":"b","x":1395,"y":50},{"s":"b","x":1385,"y":59.1},{"s":"b","x":1375,"y":52},{"s":"b","x":1365,"y":42},{"s":"b","x":1355,"y":40},{"s":"b","x":1340,"y":38.5},{"s":"b","x":1300,"y":37.2},{"s":"b","x":1250,"y":36.8},{"s":"b","x":1200,"y":37},{"s":"b","x":1170,"y":38.5},{"s":"b","x":1150,"y":40},{"s":"b","x":1135,"y":55},{"s":"b","x":1120,"y":82.7},{"s":"b","x":1105,"y":65},{"s":"b","x":1090,"y":40.5},{"s":"b","x":1075,"y":45},{"s":"b","x":1062,"y":70},{"s":"b","x":1052,"y":87.1},{"s":"b","x":1040,"y":70},{"s":"b","x":1020,"y":50},{"s":"b","x":1000,"y":44},{"s":"b","x":970,"y":41.5},{"s":"b","x":930,"y":40},{"s":"b","x":900,"y":40.5},{"s":"b","x":890,"y":48},{"s":"b","x":880,"y":69.7},{"s":"b","x":870,"y":50},{"s":"b","x":860,"y":40},{"s":"b","x":840,"y":38.5},{"s":"b","x":800,"y":37},{"s":"b","x":750,"y":35.6},{"s":"b","x":700,"y":34.6},{"s":"b","x":650,"y":33.8},{"s":"b","x":610,"y":33.5},{"s":"b","x":580,"y":33.6},{"s":"b","x":540,"y":34.8},{"s":"b","x":510,"y":36.5},{"s":"b","x":490,"y":40},{"s":"b","x":475,"y":50},{"s":"b","x":462,"y":63.4},{"s":"b","x":452,"y":60},{"s":"b","x":440,"y":45},{"s":"b","x":430,"y":37},{"s":"b","x":420,"y":37.2},{"s":"b","x":412,"y":45.5},{"s":"b","x":405,"y":45},{"s":"b","x":400,"y":37},
{"s":"k","x":4000,"y":11.1},{"s":"k","x":3500,"y":10.9},{"s":"k","x":3000,"y":10.6},{"s":"k","x":2500,"y":10.3},{"s":"k","x":2000,"y":9.8},{"s":"k","x":1600,"y":9.4},{"s":"k","x":1470,"y":9.3},{"s":"k","x":1455,"y":10.1},{"s":"k","x":1440,"y":9.3},{"s":"k","x":1300,"y":9.0},{"s":"k","x":1100,"y":8.4},{"s":"k","x":1000,"y":7.8},{"s":"k","x":900,"y":7.3},{"s":"k","x":800,"y":6.6},{"s":"k","x":700,"y":5.6},{"s":"k","x":600,"y":4.8},{"s":"k","x":500,"y":4.4},{"s":"k","x":430,"y":4.2},{"s":"k","x":420,"y":5.5},{"s":"k","x":415,"y":6.8},{"s":"k","x":410,"y":4.0},{"s":"k","x":405,"y":5.8},{"s":"k","x":400,"y":4.5}
]
},
"columns": 2,
"align": "each",
"bounds": "flush",
"spacing": {"row": 144, "column": 103},
"resolve": {"scale": {"x": "independent", "y": "independent", "color": "independent"}},
"concat": [
{
 "width": 496, "height": 260,
 "title": {"text": "Commercial Li₂S - EtOH", "offset": -7, "dx": -12},
 "layer": [
  {"data": {"name": "a_lines"}, "mark": {"type": "line", "strokeWidth": 2.2},
   "encoding": {
    "x": {"field": "x", "type": "quantitative", "scale": {"domain": [10, 70], "nice": false, "zero": false},
          "axis": {"values": [10,14,18,22,26,30,34,38,42,46,50,54,58,62,66,70], "tickCount": 100, "format": "d", "labelExpr": "(datum.value - 10) % 20 == 0 ? datum.label : ''", "labelOverlap": false, "labelFlush": false, "title": "2θ / °", "labelPadding": 12.5, "titlePadding": 14}},
    "y": {"field": "y", "type": "quantitative", "scale": {"domain": [0, 100], "nice": false, "zero": false},
          "axis": {"labels": false, "ticks": false, "domain": false, "title": "Sqrt(Intensity) / a.u.", "titleFontSize": 25, "titlePadding": 19}},
    "color": {"field": "s", "type": "nominal", "scale": {"domain": ["k", "b", "g"], "range": ["#000000", "#3d62a8", "#619544"]}, "legend": null}
   }},
  {"data": {"name": "a_labels"}, "mark": {"type": "text", "align": "left", "baseline": "middle", "font": "Lato", "fontSize": 18, "color": "#1a1a1a"},
   "encoding": {"x": {"field": "x", "type": "quantitative", "scale": {"domain": [10, 70], "nice": false, "zero": false}}, "y": {"field": "y", "type": "quantitative", "scale": {"domain": [0, 100], "nice": false, "zero": false}}, "text": {"field": "t"}}},
  {"data": {"name": "letters"}, "transform": [{"filter": "datum.p == 'a'"}], "mark": {"type": "text", "align": "center", "baseline": "alphabetic", "fontSize": 25, "fontWeight": "bold", "color": "black"},
   "encoding": {"x": {"field": "x", "type": "quantitative", "scale": {"domain": [10, 70], "nice": false, "zero": false}}, "y": {"field": "y", "type": "quantitative", "scale": {"domain": [0, 100], "nice": false, "zero": false}}, "text": {"field": "t"}}}
 ]
},
{
 "width": 496, "height": 260,
 "title": {"text": "Na₂S - EtOH", "offset": -7, "dx": -12},
 "layer": [
  {"data": {"name": "b_lines"}, "mark": {"type": "line", "strokeWidth": 2.2},
   "encoding": {
    "x": {"field": "x", "type": "quantitative", "scale": {"domain": [10, 70], "nice": false, "zero": false},
          "axis": {"values": [10,14,18,22,26,30,34,38,42,46,50,54,58,62,66,70], "tickCount": 100, "format": "d", "labelExpr": "(datum.value - 10) % 20 == 0 ? datum.label : ''", "labelOverlap": false, "labelFlush": false, "title": "2θ / °", "labelPadding": 12.5, "titlePadding": 14}},
    "y": {"field": "y", "type": "quantitative", "scale": {"domain": [0, 100], "nice": false, "zero": false},
          "axis": {"labels": false, "ticks": false, "domain": false, "title": "Sqrt(Intensity) / a.u.", "titleFontSize": 25, "titlePadding": 27}},
    "color": {"field": "s", "type": "nominal", "scale": {"domain": ["k", "b", "g"], "range": ["#000000", "#3d62a8", "#619544"]}, "legend": null}
   }},
  {"data": {"name": "b_marks"}, "transform": [{"filter": "datum.m == 'n'"}], "mark": {"type": "point", "shape": "triangle-down", "filled": true, "size": 150, "color": "black", "opacity": 1},
   "encoding": {"x": {"field": "x", "type": "quantitative", "scale": {"domain": [10, 70], "nice": false, "zero": false}}, "y": {"field": "y", "type": "quantitative", "scale": {"domain": [0, 100], "nice": false, "zero": false}}}},
  {"data": {"name": "b_marks"}, "transform": [{"filter": "datum.m == 'e'"}], "mark": {"type": "point", "shape": "square", "filled": true, "size": 120, "color": "#111111", "opacity": 1},
   "encoding": {"x": {"field": "x", "type": "quantitative", "scale": {"domain": [10, 70], "nice": false, "zero": false}}, "y": {"field": "y", "type": "quantitative", "scale": {"domain": [0, 100], "nice": false, "zero": false}}}},
  {"data": {"name": "b_marks"}, "transform": [{"filter": "datum.m == 'e'"}], "mark": {"type": "point", "shape": "circle", "filled": false, "size": 28, "stroke": "white", "strokeWidth": 1.2, "opacity": 1},
   "encoding": {"x": {"field": "x", "type": "quantitative", "scale": {"domain": [10, 70], "nice": false, "zero": false}}, "y": {"field": "y", "type": "quantitative", "scale": {"domain": [0, 100], "nice": false, "zero": false}}}},
  {"data": {"name": "b_labels"}, "mark": {"type": "text", "align": "left", "baseline": "middle", "fontSize": 22.5, "color": "black"},
   "encoding": {"x": {"field": "x", "type": "quantitative", "scale": {"domain": [10, 70], "nice": false, "zero": false}}, "y": {"field": "y", "type": "quantitative", "scale": {"domain": [0, 100], "nice": false, "zero": false}}, "text": {"field": "t"}}},
  {"data": {"name": "letters"}, "transform": [{"filter": "datum.p == 'b'"}], "mark": {"type": "text", "align": "center", "baseline": "alphabetic", "fontSize": 25, "fontWeight": "bold", "color": "black"},
   "encoding": {"x": {"field": "x", "type": "quantitative", "scale": {"domain": [10, 70], "nice": false, "zero": false}}, "y": {"field": "y", "type": "quantitative", "scale": {"domain": [0, 100], "nice": false, "zero": false}}, "text": {"field": "t"}}}
 ]
},
{
 "width": 506, "height": 263,
 "layer": [
  {"data": {"name": "c_lines"}, "mark": {"type": "line", "strokeWidth": 2.2},
   "encoding": {
    "x": {"field": "x", "type": "quantitative", "scale": {"domain": [0, 4000], "reverse": true, "nice": false, "zero": false},
          "axis": {"values": [0,200,400,600,800,1000,1200,1400,1600,1800,2000,2200,2400,2600,2800,3000,3200,3400,3600,3800,4000], "tickCount": 100, "format": "d", "labelExpr": "datum.value % 1000 == 0 ? datum.label : ''", "labelOverlap": false, "labelFlush": false, "title": "Wavenumber / cm⁻¹", "labelPadding": 9.5, "titlePadding": 16}},
    "y": {"field": "y", "type": "quantitative", "scale": {"domain": [0, 100], "nice": false, "zero": false},
          "axis": {"labels": false, "ticks": false, "domain": false, "title": "Absorbance", "titleFontSize": 25, "titlePadding": 20}},
    "color": {"field": "s", "type": "nominal", "scale": {"domain": ["k", "b", "g"], "range": ["#000000", "#3d62a8", "#619544"]}, "legend": null}
   }},
  {"data": {"name": "c_labels"}, "mark": {"type": "text", "align": "left", "baseline": "middle", "fontSize": 23, "color": "black"},
   "encoding": {"x": {"field": "x", "type": "quantitative", "scale": {"domain": [0, 4000], "reverse": true, "nice": false, "zero": false}}, "y": {"field": "y", "type": "quantitative", "scale": {"domain": [0, 100], "nice": false, "zero": false}}, "text": {"field": "t"}}},
  {"data": {"name": "letters"}, "transform": [{"filter": "datum.p == 'c'"}], "mark": {"type": "text", "align": "center", "baseline": "alphabetic", "fontSize": 25, "fontWeight": "bold", "color": "black"},
   "encoding": {"x": {"field": "x", "type": "quantitative", "scale": {"domain": [0, 4000], "reverse": true, "nice": false, "zero": false}}, "y": {"field": "y", "type": "quantitative", "scale": {"domain": [0, 100], "nice": false, "zero": false}}, "text": {"field": "t"}}}
 ]
},
{
 "width": 502, "height": 263,
 "layer": [
  {"data": {"name": "d_lines"}, "mark": {"type": "line", "strokeWidth": 2.2},
   "encoding": {
    "x": {"field": "x", "type": "quantitative", "scale": {"domain": [0, 4000], "reverse": true, "nice": false, "zero": false},
          "axis": {"values": [0,200,400,600,800,1000,1200,1400,1600,1800,2000,2200,2400,2600,2800,3000,3200,3400,3600,3800,4000], "tickCount": 100, "format": "d", "labelExpr": "datum.value % 1000 == 0 ? datum.label : ''", "labelOverlap": false, "labelFlush": false, "title": "Wavenumber / cm⁻¹", "labelPadding": 9.5, "titlePadding": 16}},
    "y": {"field": "y", "type": "quantitative", "scale": {"domain": [0, 100], "nice": false, "zero": false},
          "axis": {"labels": false, "ticks": false, "domain": false, "title": "Absorbance", "titleFontSize": 25, "titlePadding": 17}},
    "color": {"field": "s", "type": "nominal", "scale": {"domain": ["k", "b", "g"], "range": ["#000000", "#3d62a8", "#619544"]}, "legend": null}
   }},
  {"data": {"name": "d_labels"}, "mark": {"type": "text", "align": "left", "baseline": "middle", "fontSize": 23, "color": "black"},
   "encoding": {"x": {"field": "x", "type": "quantitative", "scale": {"domain": [0, 4000], "reverse": true, "nice": false, "zero": false}}, "y": {"field": "y", "type": "quantitative", "scale": {"domain": [0, 100], "nice": false, "zero": false}}, "text": {"field": "t"}}},
  {"data": {"name": "letters"}, "transform": [{"filter": "datum.p == 'd'"}], "mark": {"type": "text", "align": "center", "baseline": "alphabetic", "fontSize": 25, "fontWeight": "bold", "color": "black"},
   "encoding": {"x": {"field": "x", "type": "quantitative", "scale": {"domain": [0, 4000], "reverse": true, "nice": false, "zero": false}}, "y": {"field": "y", "type": "quantitative", "scale": {"domain": [0, 100], "nice": false, "zero": false}}, "text": {"field": "t"}}}
 ]
}
]
}
